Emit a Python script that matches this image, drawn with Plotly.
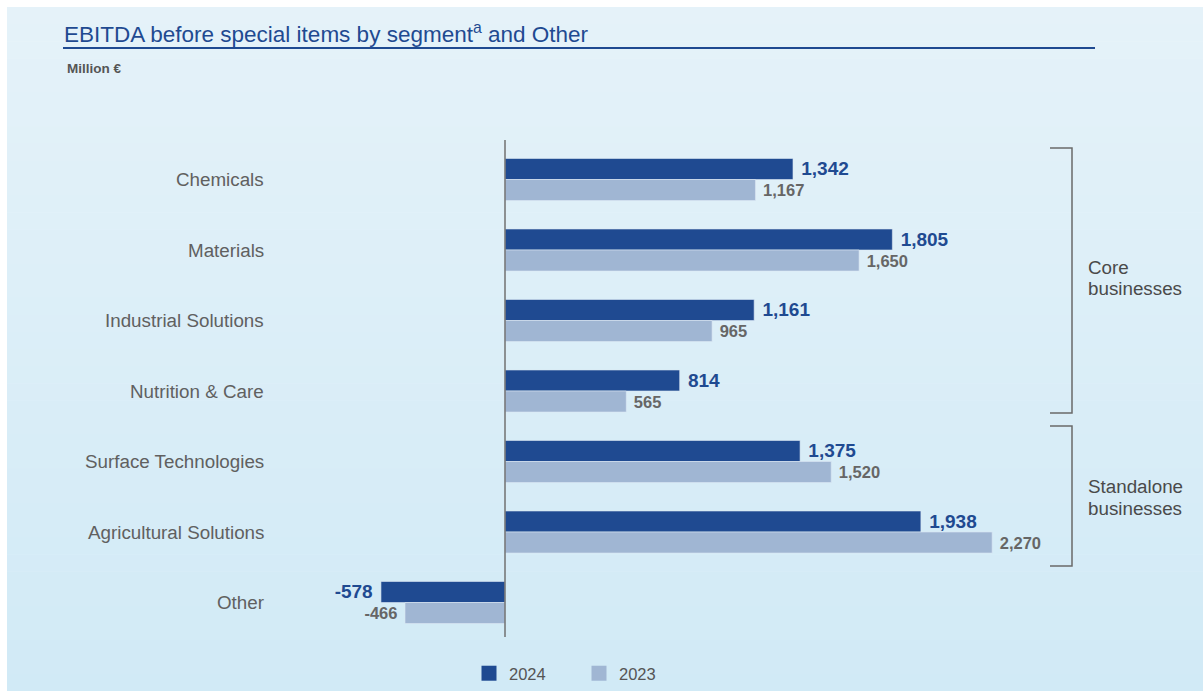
import plotly.graph_objects as go

categories = ["Chemicals", "Materials", "Industrial Solutions", "Nutrition & Care",
              "Surface Technologies", "Agricultural Solutions", "Other"]
values_2024 = [1342, 1805, 1161, 814, 1375, 1938, -578]
values_2023 = [1167, 1650, 965, 565, 1520, 2270, -466]
series_names = ["2024", "2023"]

W, H = 1203, 691
FONT = "Liberation Sans, Arial, Helvetica, sans-serif"
DARK = "#1f4a91"
LIGHT = "#a0b6d3"

def px_x(p):
    return p / W

def px_y(p):
    return 1 - p / H

# axis mapping: zero at x=505px, 0.2146 px per unit; category i center at c0+step*i px
scale = 0.2146
xmin = -505 / scale
xmax = (W - 505) / scale
c0, step = 179.5, 70.5
ymin_top = -c0 / step
ymax_bot = (H - c0) / step

def lab(v):
    s = f"{v:,}"
    return (" " + s) if v >= 0 else (s + " ")

fig = go.Figure()
fig.add_trace(go.Bar(
    y=categories, x=values_2024, name=series_names[0], orientation="h",
    marker=dict(color=DARK, line=dict(color="#dbe8f3", width=0.6)),
    text=[lab(v) for v in values_2024], textposition="outside",
    textfont=dict(family=FONT, size=19, color=DARK, weight="bold"),
    constraintext="none", cliponaxis=False, hoverinfo="skip", showlegend=False,
))
fig.add_trace(go.Bar(
    y=categories, x=values_2023, name=series_names[1], orientation="h",
    marker=dict(color=LIGHT, line=dict(color="#dbe8f3", width=0.6)),
    text=[lab(v) for v in values_2023], textposition="outside",
    textfont=dict(family=FONT, size=16.5, color="#666666", weight="bold"),
    constraintext="none", cliponaxis=False, hoverinfo="skip", showlegend=False,
))
# legend entries
for nm, col in zip(series_names, [DARK, LIGHT]):
    fig.add_trace(go.Scatter(x=[None], y=[None], mode="markers", name=nm,
                             marker=dict(symbol="square", size=15, color=col),
                             hoverinfo="skip"))

shapes = []
# white frame + gradient background
shapes.append(dict(type="rect", xref="paper", yref="paper", x0=0, x1=1, y0=0, y1=1,
                   fillcolor="white", line_width=0, layer="below"))
top = (229, 242, 249)
bot = (209, 234, 246)
n = 40
y_start, y_end = 7, H
for i in range(n):
    t = i / (n - 1)
    c = tuple(round(top[k] + (bot[k] - top[k]) * t) for k in range(3))
    y0p = y_start + (y_end - y_start) * i / n
    y1p = y_start + (y_end - y_start) * (i + 1) / n
    shapes.append(dict(type="rect", xref="paper", yref="paper",
                       x0=px_x(7), x1=1, y0=max(0, px_y(y1p + 0.5)), y1=px_y(y0p),
                       fillcolor="rgb(%d,%d,%d)" % c, line_width=0, layer="below"))
# title underline
shapes.append(dict(type="line", xref="paper", yref="paper", x0=px_x(63), x1=px_x(1095),
                   y0=px_y(48), y1=px_y(48), line=dict(color=DARK, width=2)))
# zero axis line
shapes.append(dict(type="line", xref="x", yref="paper", x0=0, x1=0,
                   y0=px_y(637), y1=px_y(140), line=dict(color="#707070", width=1.5)))
# brackets
def bracket(ytop, ybot):
    xs = [1050, 1072, 1072, 1050]
    ys = [ytop, ytop, ybot, ybot]
    path = "M " + " L ".join(f"{px_x(a)},{px_y(b)}" for a, b in zip(xs, ys))
    return dict(type="path", xref="paper", yref="paper", path=path,
                line=dict(color="#6a6a6a", width=1.5))
shapes.append(bracket(148, 413))
shapes.append(bracket(426, 566))

annotations = []
annotations.append(dict(text="EBITDA before special items by segment<sup>a</sup> and Other",
                        xref="paper", yref="paper", x=px_x(62), y=px_y(33),
                        xanchor="left", yanchor="middle", showarrow=False,
                        font=dict(family=FONT, size=22.5, color=DARK)))
annotations.append(dict(text="<b>Million €</b>", xref="paper", yref="paper",
                        x=px_x(65), y=px_y(68), xanchor="left", yanchor="middle",
                        showarrow=False, font=dict(family=FONT, size=13.5, color="#555555")))
for i, c in enumerate(categories):
    annotations.append(dict(text=c, xref="paper", yref="y", x=px_x(266), y=c,
                            xanchor="right", yanchor="middle", showarrow=False,
                            font=dict(family=FONT, size=18.8, color="#606060")))
for txt, yy in [("Core", 267), ("businesses", 289), ("Standalone", 486), ("businesses", 508)]:
    annotations.append(dict(text=txt, xref="paper", yref="paper",
                            x=px_x(1086), y=px_y(yy), xanchor="left", yanchor="middle",
                            align="left", showarrow=False,
                            font=dict(family=FONT, size=18.8, color="#4a4a4a")))

fig.update_layout(
    width=W, height=H,
    margin=dict(l=0, r=0, t=0, b=0),
    paper_bgcolor="white", plot_bgcolor="rgba(0,0,0,0)",
    barmode="group", bargap=0.404, bargroupgap=0,
    xaxis=dict(range=[xmin, xmax], visible=False, fixedrange=True),
    yaxis=dict(categoryorder="array", categoryarray=categories,
               range=[ymax_bot, ymin_top], visible=False, fixedrange=True),
    showlegend=True,
    legend=dict(orientation="h", x=px_x(469), y=0, xanchor="left", yanchor="bottom",
                font=dict(family=FONT, size=16.5, color="#555555"),
                bgcolor="rgba(0,0,0,0)", itemwidth=30, entrywidth=65,
                traceorder="normal"),
    shapes=shapes, annotations=annotations,
    font=dict(family=FONT),
)

fig.write_html("out.html")
